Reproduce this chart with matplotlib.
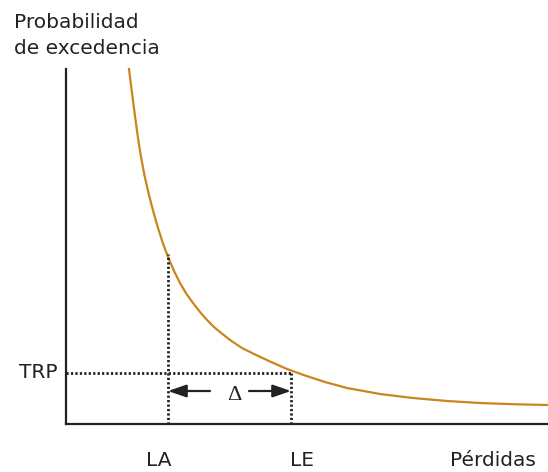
import matplotlib
matplotlib.use("Agg")
import matplotlib.pyplot as plt

# curve (x: losses, y: exceedance probability, arbitrary units)
curve_x = [63, 66, 69, 72, 75, 78.5, 82.5, 87, 92, 97, 102, 108, 114, 120.5, 127, 134, 141, 148,
           154, 164, 176, 188, 204, 221, 239, 259, 281, 314, 347, 381, 414, 447, 481]
curve_y = [355, 331, 308, 286, 267, 248.5, 231, 213.5, 196, 180.5, 167, 153, 141, 130, 121, 112, 104, 97,
           92, 84, 76, 70, 62.5, 55, 48.5, 42, 36, 30, 26, 23, 21, 19.8, 19]

la_x = 102
le_x = 225
trp_y = 51
la_top = 170
x_labels = ["LA", "LE"]
y_label_text = "TRP"

W, H = 548, 472
fig = plt.figure(figsize=(W / 100, H / 100), dpi=100)
ax = fig.add_axes([66 / W, 48 / H, 482 / W, 355 / H])
ax.set_xlim(0, 482)
ax.set_ylim(0, 355)
for s in ["top", "right"]:
    ax.spines[s].set_visible(False)
for s in ["left", "bottom"]:
    ax.spines[s].set_linewidth(1.6)
    ax.spines[s].set_color("#222222")
ax.set_xticks([])
ax.set_yticks([])

ax.plot(curve_x, curve_y, color="#c8861c", lw=1.6, clip_on=False, solid_joinstyle="round")

dot = dict(color="#222222", lw=2.0, linestyle=(0, (0.8, 0.8)))
ax.plot([la_x, la_x], [0, la_top], **dot)
ax.plot([le_x, le_x], [0, trp_y], **dot)
ax.plot([0, le_x], [trp_y, trp_y], **dot)

arr_y = 33
aprops = dict(arrowstyle="-|>,head_length=1.1,head_width=0.38", color="#222222", lw=1.6,
              shrinkA=0, shrinkB=0)
ax.annotate("", xy=(la_x, arr_y), xytext=(la_x + 42, arr_y), arrowprops=aprops)
ax.annotate("", xy=(le_x, arr_y), xytext=(le_x - 42, arr_y), arrowprops=aprops)
ax.text(168.5, 424 - 396, "Δ", ha="center", va="center", fontsize=16,
        family="Liberation Serif", color="#222222")

fs = 14.5
col = "#222222"
ax.text(-8, trp_y, y_label_text, ha="right", va="center", fontsize=fs, color=col)
for xv, lab in zip([159 - 66, 302.5 - 66], x_labels):
    ax.text(xv, 424 - 470, lab, ha="center", va="bottom", fontsize=fs, color=col)
ax.text(493 - 66, 424 - 470, "Pérdidas", ha="center", va="bottom", fontsize=fs, color=col)
fig.text(14 / W, 1 - 28 / H, "Probabilidad", ha="left", va="baseline", fontsize=fs, color=col)
fig.text(14 / W, 1 - 54 / H, "de excedencia", ha="left", va="baseline", fontsize=fs, color=col)

fig.savefig("out.png", dpi=100)
